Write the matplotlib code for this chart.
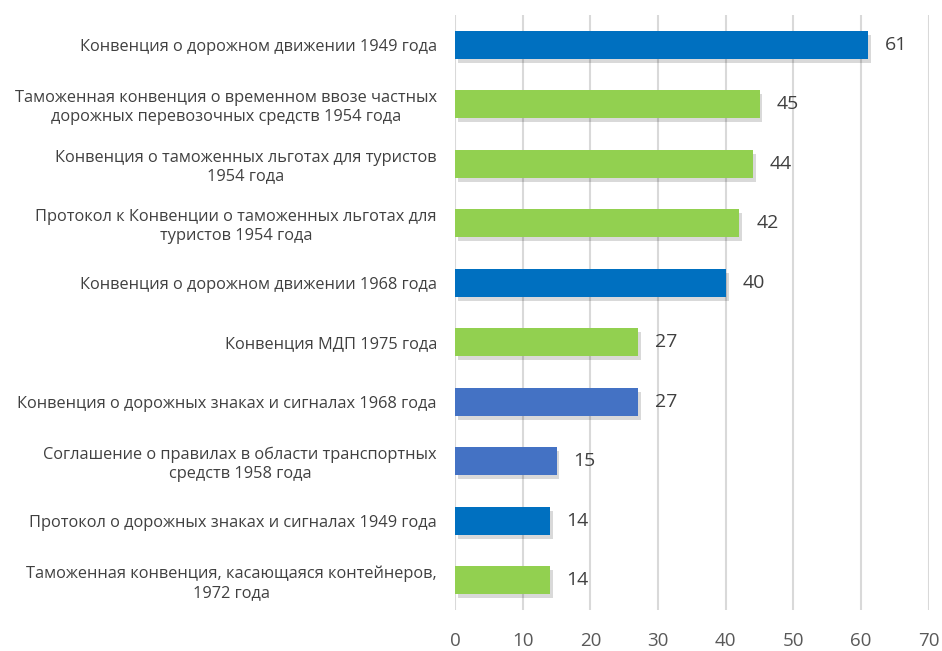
import numpy as np
import matplotlib.pyplot as plt
import matplotlib.patheffects as pe

plt.rcParams['font.family'] = ['Open Sans', 'DejaVu Sans']

labels = [
    'Конвенция о дорожном движении 1949 года',
    'Таможенная конвенция о временном ввозе частных\nдорожных перевозочных средств 1954 года',
    'Конвенция о таможенных льготах для туристов\n1954 года',
    'Протокол к Конвенции о таможенных льготах для\nтуристов 1954 года',
    'Конвенция о дорожном движении 1968 года',
    'Конвенция МДП 1975 года',
    'Конвенция о дорожных знаках и сигналах 1968 года',
    'Соглашение о правилах в области транспортных\nсредств 1958 года',
    'Протокол о дорожных знаках и сигналах 1949 года',
    'Таможенная конвенция, касающаяся контейнеров,\n1972 года',
]
values = [61, 45, 44, 42, 40, 27, 27, 15, 14, 14]
colors = ['#0070C0', '#92D050', '#92D050', '#92D050', '#0070C0',
          '#92D050', '#4472C4', '#4472C4', '#0070C0', '#92D050']

fig = plt.figure(figsize=(9.42, 6.51), dpi=100)
ax = fig.add_axes([0.483, 0.063, 0.503, 0.914])

y = np.arange(len(values))
bars = ax.barh(y, values, height=0.47, color=colors, zorder=3)
for b in bars:
    b.set_path_effects([pe.SimplePatchShadow(offset=(2, -3), shadow_rgbFace='black', alpha=0.15),
                        pe.Normal()])

for yi, v in zip(y, values):
    ax.text(v + 2.5, yi, str(v), va='center', ha='left', fontsize=14, color='#404040')

ax.set_ylim(len(values) - 0.5, -0.5)
ax.set_xlim(0, 70)
ax.set_xticks(range(0, 71, 10))
ax.set_yticks(y)
ax.set_yticklabels(labels, fontsize=11.8, color='#404040', multialignment='center',
                   linespacing=1.2)
ax.tick_params(axis='y', length=0, pad=13)
ax.tick_params(axis='x', length=0, pad=16, labelsize=13.5, labelcolor='#595959')
ax.grid(axis='x', color='#d9d9d9', linewidth=1.5, zorder=0)
for s in ax.spines.values():
    s.set_visible(False)

fig.savefig('out.png', dpi=100)
